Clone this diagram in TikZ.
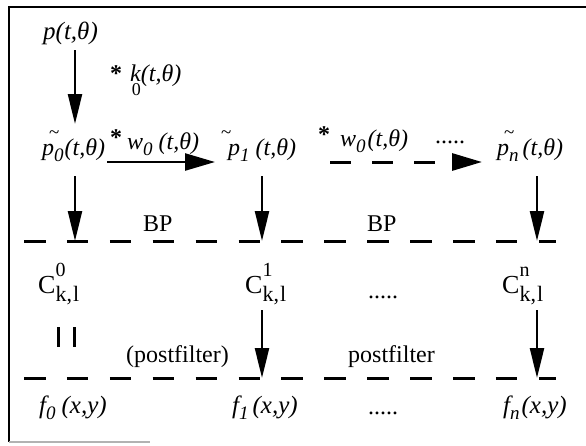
\documentclass[tikz,border=0pt]{standalone}
\usepackage{fontspec}
\setmainfont{Liberation Serif}
\usetikzlibrary{arrows.meta}
\newcommand\ssub[1]{\raisebox{-0.26em}{\fontsize{19}{19}\selectfont\itshape #1}}
\newcommand\Cdecor[2]{C\rlap{\raisebox{0.62em}{\fontsize{20}{20}\selectfont #1}}\raisebox{-0.33em}{\fontsize{22}{22}\selectfont #2}}
\newcommand\tld[1]{\rlap{\hspace{#1}\raisebox{17pt}{\fontsize{19}{19}\selectfont\upshape\textasciitilde}}}
\begin{document}
\begin{tikzpicture}[x=1pt,y=-1pt,
 it/.style={font=\fontsize{24}{28}\selectfont\itshape, inner sep=0pt, anchor=base west},
 topit/.style={font=\fontsize{25}{28}\selectfont\itshape, inner sep=0pt, anchor=base west},
 rm/.style={font=\fontsize{24}{28}\selectfont, inner sep=0pt, anchor=base west},
 cbig/.style={font=\fontsize{26}{30}\selectfont, inner sep=0pt, anchor=base west},
 varrow/.style={line width=2.4pt, -{Triangle[length=30pt,width=14pt]}},
 harrow/.style={line width=2.4pt, -{Triangle[length=30pt,width=17pt]}},
 dline/.style={line width=3pt, dash pattern=on 21.5pt off 21.4pt},
 dharrow/.style={line width=3pt, dash pattern=on 21pt off 21pt, -{Triangle[length=30pt,width=17pt]}},
]
\useasboundingbox (0,0) rectangle (586,445);
% frame
\draw[line width=2.5pt] (586,7) -- (9,7) -- (9,442);
\draw[line width=2pt, gray!60] (9,442) -- (150,442);

% top
\node[topit] (p) at (43,39) {p(t,θ)};
\node[it] (k) at (110,81) {\textbf{\upshape *}\hspace{8pt}k\llap{\raisebox{-0.62em}{\fontsize{18}{18}\selectfont\upshape 0}}(t,θ)};
\coordinate (ka) at (75,50);
\coordinate (kb) at (75,124);
\draw[varrow] (ka) -- (kb);

% row 2
\node[it] (p0) at (42,155) {\tld{7pt}p\ssub{0}\hspace{1pt}(t,θ)};
\node[it] (w1) at (110,149) {\raisebox{4pt}{\textbf{\upshape *}}\hspace{5pt}w\ssub{0}\hspace{6pt}(t,θ)};
\node[it] (p1) at (228,155) {\tld{-7pt}p\ssub{1}\hspace{6pt}(t,θ)};
\node[it] (w2) at (318,146) {\raisebox{4pt}{\textbf{\upshape *}}\hspace{10pt}w\ssub{0}\hspace{2pt}(t,θ)};
\node[rm, anchor=base] (d1) at (450,143) {.....};
\node[it] (pn) at (497,155) {\tld{7pt}p\ssub{n}\hspace{4pt}(t,θ)};

\coordinate (h1a) at (107,162);
\coordinate (h1b) at (215,162);
\draw[harrow] (h1a) -- (h1b);
\coordinate (h2a) at (330,162);
\coordinate (h2b) at (482,162);
\draw[dharrow] (h2a) -- (h2b);

\coordinate (v0a) at (75,176);
\coordinate (v0b) at (75,241);
\coordinate (v1a) at (262,176);
\coordinate (v1b) at (262,241);
\coordinate (vna) at (537,176);
\coordinate (vnb) at (537,241);
\draw[varrow] (v0a) -- (v0b);
\draw[varrow] (v1a) -- (v1b);
\draw[varrow] (vna) -- (vnb);

\node[rm] (bp1) at (143,231) {BP};
\node[rm] (bp2) at (367,231) {BP};
\coordinate (l1a) at (24,241);
\coordinate (l1b) at (556,241);
\draw[dline] (l1a) -- (l1b);

% row 3
\node[cbig] (c0) at (38,293) {\Cdecor{0}{k,\hspace{1pt}l}};
\node[cbig] (c1) at (245,293) {\Cdecor{1}{k,\hspace{1pt}l}};
\node[rm, anchor=base] (d2) at (383,298) {.....};
\node[cbig] (cn) at (502,293) {\Cdecor{n}{k,\hspace{1pt}l}};
\draw[line width=3pt] (58,327) -- (58,347);
\draw[line width=3pt] (74,327) -- (74,347);

\coordinate (u1a) at (262,310);
\coordinate (u1b) at (262,378);
\coordinate (una) at (537,310);
\coordinate (unb) at (537,378);
\draw[varrow] (u1a) -- (u1b);
\draw[varrow] (una) -- (unb);

\node[rm] (pf1) at (126,362) {(postfilter)};
\node[rm] (pf2) at (348,362) {postfilter};
\coordinate (l2a) at (24,378);
\coordinate (l2b) at (556,378);
\draw[dline] (l2a) -- (l2b);

% row 4
\node[it, font=\fontsize{25}{28}\selectfont\itshape] (f0) at (39,413) {f\ssub{0}\hspace{6pt}(x,y)};
\node[it, font=\fontsize{25}{28}\selectfont\itshape] (f1) at (232,413) {f\ssub{1}\hspace{4pt}(x,y)};
\node[rm, anchor=base] (d3) at (383,414) {.....};
\node[it, font=\fontsize{25}{28}\selectfont\itshape] (fn) at (503,413) {f\ssub{n}\hspace{2pt}(x,y)};
\end{tikzpicture}
\end{document}
